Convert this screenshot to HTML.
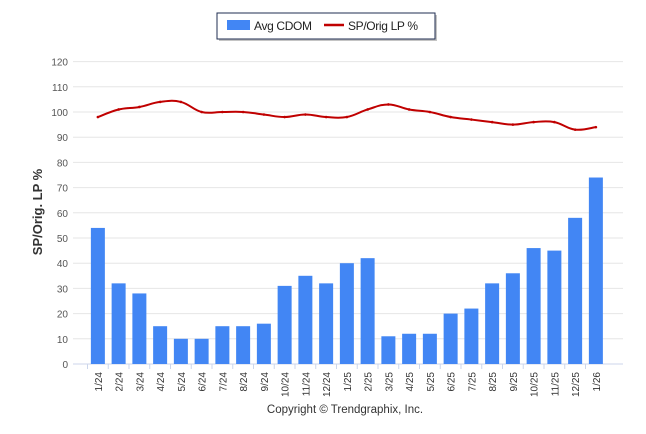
<!DOCTYPE html>
<html><head><meta charset="utf-8"><style>
body{margin:0;background:#fff;}
svg{display:block;font-family:"Liberation Sans",Arial,sans-serif;}
</style></head><body>
<svg id="chart" width="646" height="434">
<g id="legend">
<rect x="219" y="15" width="218" height="26" fill="#555" opacity="0.35"/>
<rect x="217" y="13" width="218" height="26" fill="#fff" stroke="#1f2d50" stroke-width="1"/>
<rect x="227" y="20" width="23" height="10" fill="#4286f4"/>
<text x="254" y="30" font-size="12" fill="#222" textLength="58">Avg CDOM</text>
<line x1="324" y1="25" x2="344" y2="25" stroke="#c00000" stroke-width="2.5"/>
<text x="348" y="30" font-size="12" fill="#222" textLength="70">SP/Orig LP %</text>
</g>
<text transform="translate(42,212) rotate(-90)" text-anchor="middle" font-size="13" font-weight="bold" fill="#333">SP/Orig. LP %</text>
<g id="grid"></g><g id="bars"></g><g id="line"></g><g id="xaxis"></g>
<text x="345" y="413" text-anchor="middle" font-size="11.5" fill="#333">Copyright © Trendgraphix, Inc.</text>
</svg>
<script>
const categories=["1/24","2/24","3/24","4/24","5/24","6/24","7/24","8/24","9/24","10/24","11/24","12/24","1/25","2/25","3/25","4/25","5/25","6/25","7/25","8/25","9/25","10/25","11/25","12/25","1/26"];
const cdomValues=[54,32,28,15,10,10,15,15,16,31,35,32,40,42,11,12,12,20,22,32,36,46,45,58,74];
const spOrigValues=[98,101,102,104,104,100,100,100,99,98,99,98,98,101,103,101,100,98,97,96,95,96,96,93,94];
const yTicks=[0,10,20,30,40,50,60,70,80,90,100,110,120];
const NS="http://www.w3.org/2000/svg";
const x0=87.5,step=20.75,yBase=364,yScale=2.52;
function xPos(i){return x0+step*(i+0.5);}
function yPos(v){return yBase-v*yScale;}
function mk(tag,attrs,parent){const e=document.createElementNS(NS,tag);for(const k in attrs)e.setAttribute(k,attrs[k]);document.getElementById(parent).appendChild(e);return e;}
yTicks.forEach(t=>{
 const l=mk('line',{x1:73,x2:623,y1:yPos(t),y2:yPos(t),stroke:t===0?'#ccd6eb':'#e6e6e6','stroke-width':1},'grid');
 
 
 const tx=mk('text',{x:68,y:yPos(t)+4,'text-anchor':'end','font-size':10,fill:'#555'},'grid');
 tx.textContent=t;
 
 
});
cdomValues.forEach((v,i)=>{
 const b=mk('rect',{x:xPos(i)-7,y:yPos(v),width:14,height:v*yScale,fill:'#4286f4'},'bars');
 
 
});
const pts=spOrigValues.map((v,i)=>[xPos(i),yPos(v)]);
let d="M"+pts[0][0]+","+pts[0][1];
for(let i=0;i<pts.length-1;i++){
 const p0=pts[Math.max(i-1,0)],p1=pts[i],p2=pts[i+1],p3=pts[Math.min(i+2,pts.length-1)];
 const t=0.2;
 const c1=[p1[0]+(p2[0]-p0[0])*t,p1[1]+(p2[1]-p0[1])*t];
 const c2=[p2[0]-(p3[0]-p1[0])*t,p2[1]-(p3[1]-p1[1])*t];
 d+=`C${c1[0]},${c1[1]} ${c2[0]},${c2[1]} ${p2[0]},${p2[1]}`;
}
const p=mk('path',{d:d,fill:'none',stroke:'#c00000','stroke-width':2,'stroke-linejoin':'round'},'line');


spOrigValues.forEach((v,i)=>{
 const c=mk('circle',{cx:xPos(i),cy:yPos(v),r:1.3,fill:'#c00000'},'line');
 
 
});
categories.forEach((c,i)=>{
 const tk=mk('line',{x1:x0+step*i,x2:x0+step*i,y1:364,y2:369,stroke:'#ccd6eb'},'xaxis');
 
 
 const t=mk('text',{transform:`translate(${xPos(i)+4},372) rotate(-90)`,'text-anchor':'end','font-size':10,fill:'#333'},'xaxis');
 t.textContent=c;
 
 
});
</script>
</body></html>
